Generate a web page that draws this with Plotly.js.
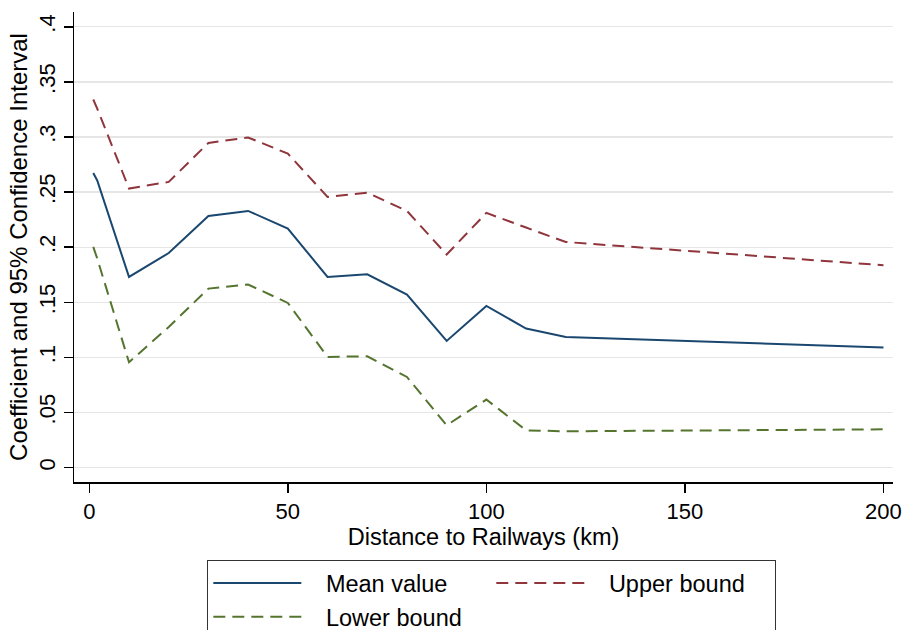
<!DOCTYPE html>
<html>
<head>
<meta charset="utf-8">
<script src="https://cdn.plot.ly/plotly-3.0.1.min.js"></script>
<style>html,body{margin:0;padding:0;background:#fff;}#chart{width:902px;height:630px;}</style>
</head>
<body>
<div id="chart"></div>
<script>
// Data
const distanceKm = [1, 2, 10, 20, 30, 40, 50, 60, 70, 80, 90, 100, 110, 120, 200];
const meanValue  = [0.2673, 0.2605, 0.1730, 0.1947, 0.2283, 0.2329, 0.2169, 0.1730, 0.1754, 0.1570, 0.1149, 0.1467, 0.1261, 0.1185, 0.1089];
const upperBound = [0.3340, 0.3258, 0.2532, 0.2592, 0.2946, 0.2995, 0.2849, 0.2456, 0.2495, 0.2329, 0.1933, 0.2311, 0.2178, 0.2047, 0.1836];
const lowerBound = [0.2002, 0.1897, 0.0955, 0.1276, 0.1624, 0.1661, 0.1494, 0.1004, 0.1010, 0.0822, 0.0384, 0.0617, 0.0338, 0.0329, 0.0347];

const seriesNames = ['Mean value', 'Upper bound', 'Lower bound'];
const xTickVals = [0, 50, 100, 150, 200];
const yTickVals = [0, 0.05, 0.1, 0.15, 0.2, 0.25, 0.3, 0.35, 0.4];
const yTickText = ['0', '.05', '.1', '.15', '.2', '.25', '.3', '.35', '.4'];

const FONT = 'Liberation Sans, Arial, sans-serif';
const pad = '\u00a0\u00a0\u00a0';

const traces = [
  {x: distanceKm, y: meanValue, name: pad + seriesNames[0], type: 'scatter', mode: 'lines',
   line: {color: '#1a476f', width: 2}},
  {x: distanceKm, y: upperBound, name: pad + seriesNames[1], type: 'scatter', mode: 'lines',
   line: {color: '#90353b', width: 2, dash: '12px,7px'}},
  {x: distanceKm, y: lowerBound, name: pad + seriesNames[2], type: 'scatter', mode: 'lines',
   line: {color: '#55752f', width: 2, dash: '12px,7px'}}
];

const layout = {
  width: 902, height: 630,
  margin: {l: 74, r: 9, t: 12, b: 148},
  paper_bgcolor: '#fff', plot_bgcolor: '#fff',
  font: {family: FONT, color: '#000', size: 22},
  showlegend: true,
  xaxis: {
    range: [-3.85, 202.4],
    tickvals: xTickVals,
    ticks: 'outside', ticklen: 9, tickwidth: 1.5, tickcolor: '#000',
    showline: true, linecolor: '#000', linewidth: 1.5,
    showgrid: false, zeroline: false,
    tickfont: {family: FONT, size: 22, color: '#000'},
    automargin: 'height',
    title: {text: 'Distance to Railways (km)', font: {family: FONT, size: 23.5, color: '#000'}, standoff: 3}
  },
  yaxis: {
    range: [-0.0131, 0.4134],
    tickvals: yTickVals, ticktext: yTickText, tickangle: -90,
    ticks: 'outside', ticklen: 9, tickwidth: 1.5, tickcolor: '#000',
    showline: true, linecolor: '#000', linewidth: 1.5,
    showgrid: true, gridcolor: '#e6e6e6', gridwidth: 1.3, zeroline: false,
    tickfont: {family: FONT, size: 22, color: '#000'},
    automargin: 'width',
    title: {text: 'Coefficient and 95% Confidence Interval', font: {family: FONT, size: 24, color: '#000'}, standoff: 0}
  },
  legend: {
    orientation: 'h',
    xref: 'container', yref: 'container',
    x: 0.2295, y: 0.1111, xanchor: 'left', yanchor: 'top',
    bordercolor: '#333', borderwidth: 1.3, bgcolor: '#fff',
    font: {family: FONT, size: 23.5, color: '#000'},
    itemwidth: 88, entrywidth: 180, entrywidthmode: 'pixels',
    traceorder: 'normal'
  }
};

Plotly.newPlot('chart', traces, layout, {displayModeBar: false, staticPlot: true});
</script>
</body>
</html>
